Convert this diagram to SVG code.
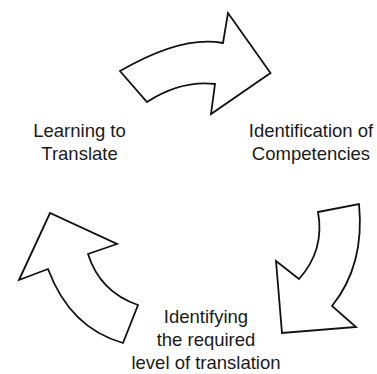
<svg xmlns="http://www.w3.org/2000/svg" width="377" height="374" viewBox="0 0 377 374">
  <style>
    .arrow { fill: #ffffff; stroke: #111111; stroke-width: 1.8; stroke-linejoin: miter; }
    .label { font-family: "Liberation Sans", Arial, sans-serif; font-size: 18.5px; fill: #1a1a1a; text-anchor: middle; }
  </style>
  <rect width="377" height="374" fill="#ffffff"/>

  <!-- curved cycle arrows -->
  <g id="connectors">
    <path id="arrow-top" class="arrow" d="M120,71 Q182,35 223,43 L228,13 L270.5,73 L211,114 L215,84 Q181,80 147,102 Z"/>
    <path id="arrow-right" class="arrow" d="M318,212 L359,204 Q365,265 332,306 L356,327 L282,333 L276,261 L299,279 Q325,250 318,212 Z"/>
    <path id="arrow-left" class="arrow" d="M48,269 L19,280 L50,213 L117,244 L88,254 Q100,292 138,305 L123,343 Q70,328 48,269 Z"/>
  </g>

  <g id="node-learning">
    <text class="label" x="79.5" y="137">Learning to</text>
    <text class="label" x="79.5" y="160">Translate</text>
  </g>

  <g id="node-identification">
    <text class="label" x="311" y="137">Identification of</text>
    <text class="label" x="311" y="160">Competencies</text>
  </g>

  <g id="node-level">
    <text class="label" x="206" y="323">Identifying</text>
    <text class="label" x="206" y="346">the required</text>
    <text class="label" x="206" y="369">level of translation</text>
  </g>
</svg>
